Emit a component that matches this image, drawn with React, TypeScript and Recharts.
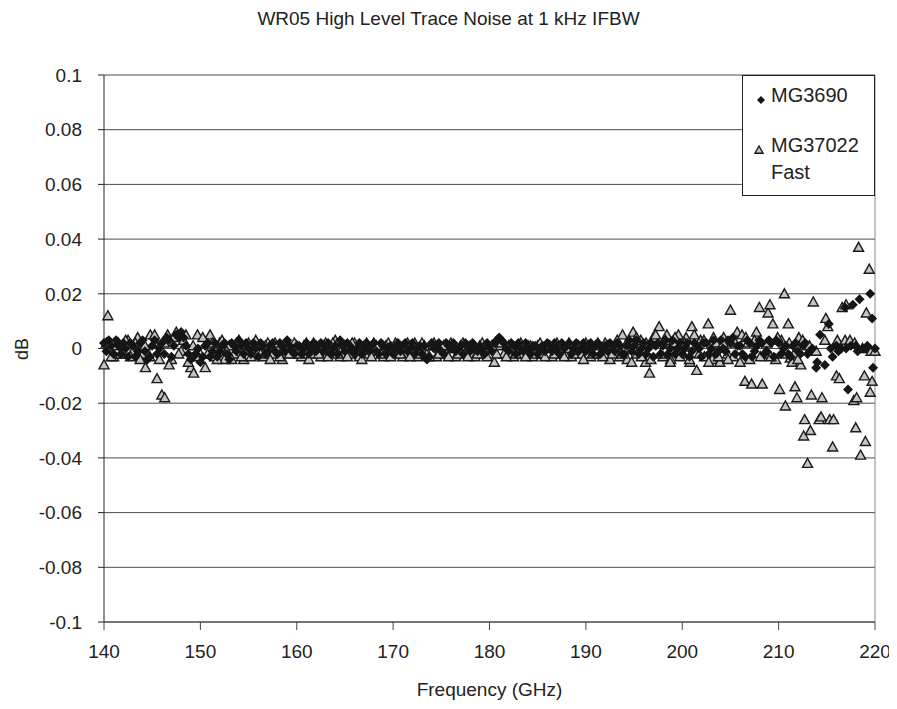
import { CartesianGrid, Legend, ReferenceLine, Scatter, ScatterChart, XAxis, YAxis } from 'recharts'

// [frequency GHz, trace noise dB]
const MG3690_LOW: Array<[number, number]> = [
  [140, 0.002], [140.5, 0.003], [141, -0.002], [141.5, 0.001], [142, 0.002], [142.5, -0.003],
  [143, 0.001], [143.5, -0.001], [144, 0.003], [144.5, -0.004], [145, 0.001], [145.5, -0.002],
  [146, 0.002], [146.5, 0.004], [147, -0.003], [147.5, 0.005], [148, 0.006], [148.5, 0.001],
  [149, -0.004], [149.5, -0.002], [150, -0.005], [150.5, 0.001], [151, -0.003], [151.5, 0.002],
  [152, -0.001], [152.5, 0.002], [153, -0.004], [153.5, 0.001], [154, 0.003], [154.5, -0.002],
  [155, 0.0], [155.5, 0.002], [156, -0.003], [156.5, 0.001], [157, -0.001], [157.5, 0.002],
  [158, -0.002], [158.5, 0.001], [159, 0.003], [159.5, -0.001], [160, 0.001],
]

const MG3690_MID: Array<[number, number]> = [
  [160.5, -0.002], [161, 0.002], [161.5, 0.0], [162, -0.001], [162.5, 0.002], [163, 0.001],
  [163.5, -0.002], [164, 0.001], [164.5, 0.003], [165, -0.001], [165.5, 0.001], [166, -0.002],
  [166.5, 0.002], [167, 0.0], [167.5, -0.001], [168, 0.002], [168.5, -0.002], [169, 0.001],
  [169.5, 0.0], [170, -0.002], [170.5, 0.002], [171, 0.001], [171.5, -0.001], [172, 0.002],
  [172.5, 0.0], [173, -0.002], [173.5, -0.004], [174, 0.002], [174.5, 0.001], [175, -0.001],
  [175.5, 0.002], [176, 0.0], [176.5, -0.001], [177, 0.001], [177.5, 0.002], [178, -0.001],
  [178.5, 0.0], [179, 0.001], [179.5, -0.002], [180, 0.001], [180.5, 0.002], [181, 0.004],
  [181.5, 0.002], [182, -0.001], [182.5, 0.001], [183, 0.002], [183.5, -0.001], [184, 0.0],
  [184.5, 0.001], [185, -0.002], [185.5, 0.001], [186, 0.002], [186.5, -0.001], [187, 0.0],
  [187.5, 0.002], [188, 0.001], [188.5, -0.002], [189, 0.002], [189.5, 0.0], [190, -0.001],
  [190.5, 0.002], [191, 0.001], [191.5, -0.002], [192, 0.001], [192.5, 0.002], [193, -0.001],
]

const MG3690_HIGH: Array<[number, number]> = [
  [193.5, 0.001], [194, -0.002], [194.5, 0.003], [195, 0.001], [195.5, -0.002], [196, 0.002],
  [196.5, 0.0], [197, -0.003], [197.5, 0.002], [198, 0.001], [198.5, -0.002], [199, 0.003],
  [199.5, 0.0], [200, -0.002], [200.5, 0.002], [201, -0.001], [201.5, 0.001], [202, -0.003],
  [202.5, 0.002], [203, 0.0], [203.5, -0.002], [204, 0.003], [204.5, -0.001], [205, 0.002],
  [205.5, -0.002], [206, 0.001], [206.5, -0.003], [207, 0.002], [207.5, -0.001], [208, 0.003],
  [208.5, -0.002], [209, 0.003], [209.5, -0.003], [210, 0.002], [210.5, 0.0], [211, -0.002],
  [211.5, 0.001], [212, -0.001], [212.5, 0.001], [213, -0.002], [213.5, 0.0], [213.9, -0.007],
  [214.3, 0.005], [214.8, -0.006], [215.2, 0.009], [215.6, -0.003], [216, 0.001], [216.5, 0.0],
  [216.9, 0.015], [217.2, -0.015], [217.7, 0.016], [218, 0.001], [218.4, 0.018], [218.8, 0.0],
  [219.2, 0.001], [219.5, 0.02], [219.7, 0.011], [219.8, -0.007], [220, 0.0],
]

// in-between sweep points of the same trace
const MG3690_BAND: Array<[number, number]> = [
  [140.25, -0.001], [140.75, 0.001], [141.25, 0.003], [141.75, -0.002], [142.25, 0.0], [142.75, 0.002],
  [143.25, -0.003], [143.75, 0.002], [144.25, -0.001], [144.75, -0.003], [145.25, 0.003], [145.75, 0.0],
  [146.25, -0.002], [146.75, 0.003], [147.25, 0.001], [147.75, 0.004], [148.25, 0.004], [148.75, -0.002],
  [149.25, -0.003], [149.75, 0.0], [150.25, -0.003], [150.75, 0.002], [151.25, -0.001], [151.75, -0.003],
  [152.25, 0.001], [152.75, -0.002], [153.25, 0.002], [153.75, -0.001], [154.25, 0.001], [154.75, 0.002],
  [155.25, -0.002], [155.75, 0.0], [156.25, 0.002], [156.75, -0.002], [157.25, 0.001], [157.75, -0.001],
  [158.25, 0.002], [158.75, -0.001], [159.25, 0.001], [159.75, -0.002], [160.25, 0.001], [160.75, 0.0],
  [161.25, -0.002], [161.75, 0.002], [162.25, 0.001], [162.75, -0.001], [163.25, 0.002], [163.75, 0.0],
  [164.25, -0.002], [164.75, 0.001], [165.25, 0.002], [165.75, -0.001], [166.25, 0.0], [166.75, -0.002],
  [167.25, 0.002], [167.75, 0.001], [168.25, -0.001], [168.75, 0.002], [169.25, -0.002], [169.75, 0.001],
  [170.25, 0.0], [170.75, -0.001], [171.25, 0.002], [171.75, 0.0], [172.25, -0.002], [172.75, 0.001],
  [173.25, 0.001], [173.75, -0.003], [174.25, 0.0], [174.75, 0.002], [175.25, -0.002], [175.75, 0.001],
  [176.25, 0.002], [176.75, 0.0], [177.25, -0.002], [177.75, 0.001], [178.25, 0.002], [178.75, -0.001],
  [179.25, 0.0], [179.75, 0.002], [180.25, -0.001], [180.75, 0.003], [181.25, 0.003], [181.75, 0.0],
  [182.25, 0.002], [182.75, -0.002], [183.25, 0.0], [183.75, 0.002], [184.25, -0.002], [184.75, 0.001],
  [185.25, 0.0], [185.75, -0.001], [186.25, 0.001], [186.75, 0.002], [187.25, -0.002], [187.75, 0.0],
  [188.25, 0.002], [188.75, 0.0], [189.25, -0.001], [189.75, 0.002], [190.25, 0.0], [190.75, -0.002],
  [191.25, 0.002], [191.75, 0.0], [192.25, -0.001], [192.75, 0.001], [193.25, 0.002], [193.75, -0.002],
  [194.25, 0.001], [194.75, -0.001], [195.25, 0.003], [195.75, 0.0], [196.25, -0.002], [196.75, 0.002],
  [197.25, 0.001], [197.75, -0.002], [198.25, 0.003], [198.75, 0.0], [199.25, -0.002], [199.75, 0.002],
  [200.25, 0.0], [200.75, -0.003], [201.25, 0.002], [201.75, 0.0], [202.25, 0.002], [202.75, -0.002],
  [203.25, 0.003], [203.75, -0.001], [204.25, 0.0], [204.75, 0.003], [205.25, 0.004], [205.75, 0.001],
  [206.25, -0.002], [206.75, 0.003], [207.25, -0.003], [207.75, 0.001], [208.25, 0.002], [208.75, -0.001],
  [209.25, 0.002], [209.75, 0.003], [210.25, -0.002], [210.75, 0.001], [211.25, -0.003], [211.75, 0.002],
  [212.25, -0.002], [212.75, 0.002], [213.25, -0.001], [214, -0.005], [215.4, 0.0], [216.2, -0.001],
  [217, 0.0], [217.5, 0.001], [218.2, -0.001], [219, 0.0],
]

const MG37022_LOW: Array<[number, number]> = [
  [140, -0.006], [140.4, 0.012], [141, -0.003], [141.5, 0.002], [142, -0.002], [142.5, 0.003],
  [143, -0.001], [143.5, 0.004], [144, -0.002], [144.3, -0.007], [144.8, 0.005], [145.2, 0.002],
  [145.5, -0.011], [146, -0.017], [146.3, -0.018], [146.6, 0.005], [147, -0.004], [147.5, 0.006],
  [148, -0.001], [148.5, 0.005], [149, -0.007], [149.3, -0.009], [149.7, 0.005], [150, -0.002],
  [150.5, -0.007], [151, 0.005], [151.5, -0.003], [152, 0.002], [152.5, -0.004], [153, 0.001],
  [153.5, -0.002], [154, 0.003], [154.5, -0.004], [155, 0.002], [155.5, -0.002], [156, 0.001],
  [156.5, -0.003], [157, 0.002], [157.5, -0.002], [158, 0.0], [158.5, -0.004], [159, 0.002],
  [159.5, -0.002], [160, 0.001],
]

const MG37022_MID: Array<[number, number]> = [
  [160.5, -0.003], [161, 0.002], [161.5, -0.002], [162, 0.001], [162.5, -0.003], [163, 0.002],
  [163.5, -0.001], [164, 0.003], [164.5, -0.003], [165, 0.001], [165.5, -0.002], [166, 0.002],
  [166.5, -0.003], [167, 0.001], [167.5, -0.002], [168, 0.002], [168.5, -0.001], [169, -0.003],
  [169.5, 0.002], [170, -0.002], [170.5, 0.001], [171, -0.003], [171.5, 0.002], [172, -0.001],
  [172.5, -0.003], [173, 0.002], [173.5, -0.002], [174, 0.001], [174.5, -0.003], [175, 0.0],
  [175.5, -0.002], [176, 0.002], [176.5, -0.003], [177, 0.001], [177.5, -0.002], [178, 0.001],
  [178.5, -0.003], [179, 0.001], [179.5, -0.002], [180, 0.0], [180.5, -0.005], [181, 0.001],
  [181.5, -0.002], [182, 0.001], [182.5, -0.003], [183, 0.0], [183.5, -0.002], [184, 0.001],
  [184.5, -0.003], [185, 0.001], [185.5, -0.002], [186, 0.0], [186.5, -0.003], [187, 0.002],
  [187.5, -0.002], [188, 0.0], [188.5, -0.003], [189, 0.001], [189.5, -0.002], [190, 0.002],
  [190.5, -0.003], [191, 0.001], [191.5, -0.002], [192, 0.002], [192.5, -0.004], [193, 0.001],
]

const MG37022_HIGH: Array<[number, number]> = [
  [193.5, -0.003], [193.8, 0.005], [194.3, -0.004], [194.9, 0.006], [195.3, -0.002], [195.7, 0.003],
  [196.2, -0.005], [196.6, -0.009], [197, 0.004], [197.6, 0.008], [198, -0.003], [198.4, 0.005],
  [198.8, -0.004], [199.2, 0.002], [199.6, 0.005], [200, -0.002], [200.4, 0.004], [200.8, -0.005],
  [201, 0.008], [201.5, -0.008], [201.9, 0.003], [202.3, -0.003], [202.7, 0.009], [203.1, -0.004],
  [203.5, 0.002], [203.9, -0.005], [204.3, 0.004], [204.7, -0.002], [205, 0.014], [205.3, -0.003],
  [205.7, 0.006], [206, -0.005], [206.2, 0.005], [206.5, -0.012], [206.8, 0.002], [207.2, -0.013],
  [207.7, 0.006], [208, 0.015], [208.3, -0.013], [208.6, -0.002], [208.9, 0.013], [209.1, 0.016],
  [209.4, 0.009], [209.7, -0.004], [210.1, -0.015], [210.3, 0.003], [210.6, 0.02], [210.7, -0.021],
  [211, 0.009], [211.2, -0.0035], [211.4, -0.005], [211.7, -0.014], [211.9, -0.018], [212.1, 0.004],
  [212.3, -0.006], [212.6, -0.032], [212.7, -0.026], [213, -0.042], [213.3, -0.03], [213.4, -0.017],
  [213.6, 0.017], [213.9, -0.001], [214.2, -0.026], [214.4, -0.025], [214.5, -0.018], [214.8, 0.003],
  [214.9, 0.011], [215.1, 0.008], [215.3, -0.026], [215.6, -0.036], [215.7, -0.026], [216, -0.01],
  [216.1, 0.003], [216.3, -0.011], [216.6, 0.015], [216.9, 0.003], [217, 0.016], [217.4, 0.003],
  [217.8, -0.019], [217.9, 0.002], [218, -0.029], [218.1, -0.018], [218.3, 0.037], [218.5, -0.039],
  [218.7, 0.0], [218.9, -0.01], [219, -0.034], [219.1, 0.013], [219.4, 0.029], [219.5, -0.016],
  [219.6, -0.001], [219.7, -0.012], [220, -0.001],
]

const MG37022_BAND: Array<[number, number]> = [
  [140.25, 0.002], [140.75, -0.003], [141.25, 0.001], [141.75, -0.002], [142.25, 0.003], [142.75, -0.003],
  [143.25, 0.002], [143.75, -0.004], [144.25, 0.001], [144.75, -0.003], [145.25, 0.005], [145.75, -0.004],
  [146.25, 0.002], [146.75, -0.006], [147.25, 0.004], [147.75, -0.002], [148.25, 0.003], [148.75, -0.005],
  [149.25, 0.001], [149.75, -0.003], [150.25, 0.004], [150.75, -0.002], [151.25, 0.002], [151.75, -0.004],
  [152.25, 0.003], [152.75, -0.001], [153.25, -0.004], [153.75, 0.002], [154.25, -0.003], [154.75, 0.001],
  [155.25, -0.003], [155.75, 0.003], [156.25, -0.002], [156.75, 0.001], [157.25, -0.004], [157.75, 0.002],
  [158.25, -0.003], [158.75, 0.001], [159.25, -0.002], [159.75, 0.002], [160.25, -0.002], [160.75, 0.001],
  [161.25, -0.004], [161.75, 0.002], [162.25, -0.002], [162.75, 0.001], [163.25, -0.003], [163.75, 0.002],
  [164.25, -0.002], [164.75, 0.0], [165.25, -0.003], [165.75, 0.002], [166.25, -0.001], [166.75, -0.004],
  [167.25, 0.002], [167.75, -0.003], [168.25, 0.001], [168.75, -0.002], [169.25, 0.001], [169.75, -0.003],
  [170.25, 0.002], [170.75, -0.002], [171.25, 0.0], [171.75, -0.003], [172.25, 0.002], [172.75, -0.002],
  [173.25, 0.001], [173.75, -0.003], [174.25, 0.002], [174.75, -0.002], [175.25, 0.001], [175.75, -0.003],
  [176.25, 0.0], [176.75, -0.002], [177.25, 0.002], [177.75, -0.003], [178.25, 0.001], [178.75, -0.002],
  [179.25, 0.002], [179.75, -0.003], [180.25, 0.001], [180.75, -0.002], [181.25, 0.002], [181.75, -0.003],
  [182.25, 0.0], [182.75, -0.002], [183.25, 0.002], [183.75, -0.003], [184.25, 0.001], [184.75, -0.002],
  [185.25, 0.002], [185.75, -0.003], [186.25, 0.001], [186.75, -0.002], [187.25, 0.0], [187.75, -0.003],
  [188.25, 0.002], [188.75, -0.002], [189.25, 0.001], [189.75, -0.004], [190.25, 0.001], [190.75, -0.002],
  [191.25, 0.002], [191.75, -0.003], [192.25, 0.001], [192.75, -0.002], [193.25, 0.003], [193.75, -0.002],
  [194.25, 0.002], [194.75, -0.005], [195.25, 0.004], [195.75, -0.003], [196.25, 0.002], [196.75, -0.004],
  [197.25, 0.005], [197.75, -0.002], [198.25, 0.003], [198.75, -0.005], [199.25, 0.004], [199.75, -0.003],
  [200.25, 0.002], [200.75, -0.004], [201.25, 0.005], [201.75, -0.002], [202.25, 0.003], [202.75, -0.005],
  [203.25, 0.004], [203.75, -0.003], [204.25, 0.002], [204.75, -0.004], [205.5, 0.002], [206.6, 0.004],
  [207, -0.004], [207.5, 0.003], [208.1, -0.003], [208.8, 0.002], [209.2, -0.003], [209.9, 0.004],
  [210.4, -0.002], [211.1, 0.002], [211.6, -0.002], [212, -0.004], [212.5, 0.003], [213.2, 0.001],
]

const X_TICKS = [140, 150, 160, 170, 180, 190, 200, 210, 220]
const Y_TICKS = [-0.1, -0.08, -0.06, -0.04, -0.02, 0, 0.02, 0.04, 0.06, 0.08, 0.1]

const toPoints = (rows: Array<[number, number]>) => rows.map(([f, v]) => ({ f, v }))
const mg3690 = toPoints([...MG3690_LOW, ...MG3690_MID, ...MG3690_HIGH, ...MG3690_BAND])
const mg37022 = toPoints([...MG37022_LOW, ...MG37022_MID, ...MG37022_HIGH, ...MG37022_BAND])

const FONT = '"Liberation Sans", Arial, sans-serif'
const INK = '#222'

function Diamond({ cx, cy, half = 5 }: any) {
  return <path d={`M${cx},${cy - half} L${cx + half},${cy} L${cx},${cy + half} L${cx - half},${cy} Z`} fill="#151515" />
}

function Triangle({ cx, cy, half = 5 }: any) {
  return (
    <path
      d={`M${cx},${cy - half} L${cx + half},${cy + half * 0.8} L${cx - half},${cy + half * 0.8} Z`}
      fill="#c4c4c4"
      stroke="#1a1a1a"
      strokeWidth={1.4}
    />
  )
}

function LegendBox() {
  return (
    <div style={{ width: 131, height: 119, border: `1px solid ${INK}`, background: '#fff', fontFamily: FONT, fontSize: 20, color: INK, position: 'relative' }}>
      <svg width={14} height={14} style={{ position: 'absolute', left: 11, top: 17 }}>
        <Diamond cx={7} cy={7} half={4} />
      </svg>
      <div style={{ position: 'absolute', left: 28, top: 8 }}>MG3690</div>
      <svg width={14} height={14} style={{ position: 'absolute', left: 9, top: 67 }}>
        <Triangle cx={7} cy={7} half={4} />
      </svg>
      <div style={{ position: 'absolute', left: 28, top: 56, lineHeight: '27px' }}>
        MG37022
        <br />
        Fast
      </div>
    </div>
  )
}

export default function App() {
  return (
    <div style={{ position: 'relative', width: 889, height: 693, fontFamily: FONT }}>
      <div style={{ position: 'absolute', top: 0, left: 0, width: 881, textAlign: 'center', fontSize: 19, color: INK }}>
        WR05 High Level Trace Noise at 1 kHz IFBW
      </div>
      <div style={{ position: 'absolute', left: 14, top: 341, fontSize: 18, color: INK, transform: 'translate(-50%, -50%) rotate(-90deg)' }}>
        dB
      </div>
      <ScatterChart width={889} height={693} margin={{ top: 67, right: 22, bottom: 0, left: 0 }}>
        <CartesianGrid vertical={false} stroke="#4a4a4a" />
        <XAxis
          type="number"
          dataKey="f"
          domain={[140, 220]}
          ticks={X_TICKS}
          height={79}
          tickSize={8}
          tickMargin={15}
          stroke="#444"
          tick={{ fill: INK, fontSize: 19, fontFamily: FONT }}
          label={{ value: 'Frequency (GHz)', position: 'insideBottom', offset: 5, fill: INK, fontSize: 19, fontFamily: FONT }}
        />
        <YAxis
          type="number"
          dataKey="v"
          domain={[-0.1, 0.1]}
          ticks={Y_TICKS}
          width={96}
          tickSize={6}
          tickMargin={16}
          stroke="#222"
          tickFormatter={(v) => String(v)}
          tick={{ fill: INK, fontSize: 19, fontFamily: FONT }}
        />
        <ReferenceLine x={220} stroke="#888" />
        <Legend layout="vertical" align="center" verticalAlign="middle" wrapperStyle={{ top: 67, left: 734, width: 133 }} content={() => <LegendBox />} />
        <Scatter name="MG37022 Fast" data={mg37022} shape={<Triangle />} isAnimationActive={false} />
        <Scatter name="MG3690" data={mg3690} shape={<Diamond />} isAnimationActive={false} />
      </ScatterChart>
    </div>
  )
}
